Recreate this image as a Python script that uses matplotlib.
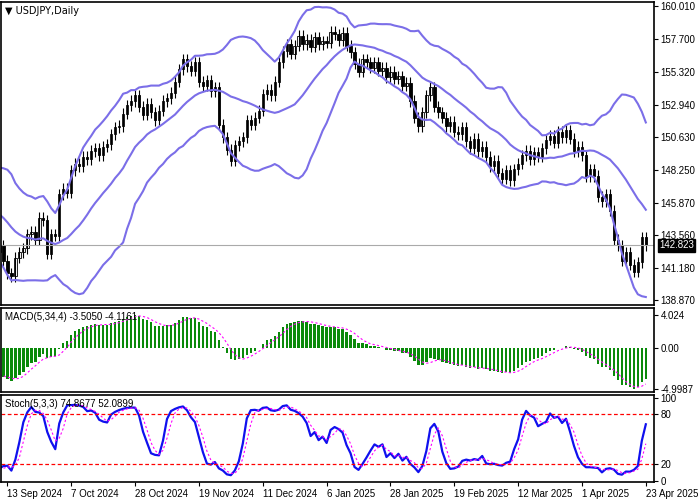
import numpy as np
import pandas as pd
import matplotlib
matplotlib.use("Agg")
import matplotlib.pyplot as plt

plt.rcParams["font.family"] = ["Liberation Sans", "DejaVu Sans"]

# closes before the visible window (warm-up for the indicators)
warmup_close = [154.0, 153.2, 152.5, 153.1, 151.6, 150.0, 149.4, 146.6, 146.5, 146.3,
                144.2, 146.2, 147.0, 146.7, 147.3, 146.8, 147.2, 147.8, 148.0, 146.5,
                145.8, 145.3, 144.6, 144.8, 143.6, 144.1, 145.9, 146.2, 145.4, 144.2,
                143.4, 143.7, 142.4, 142.3, 142.8, 141.7]

# visible daily closes, 13 Sep 2024 .. 23 Apr 2025
close = [140.8, 140.6, 141.9, 142.3, 142.6, 143.6, 143.8, 143.2, 144.8, 144.6,
         142.2, 143.6, 143.5, 146.5, 146.9, 146.6,
         148.2, 148.7, 148.5, 149.2, 149.0, 149.6, 149.8, 149.3, 149.9, 150.1,
         150.8, 151.3, 151.4, 152.3, 152.9, 153.2, 153.6, 152.8, 152.2, 153.0, 152.4,
         151.8, 152.5, 153.2, 153.4, 153.8, 154.6,
         155.5, 156.2, 155.7, 155.4, 156.0,
         154.6, 154.3, 154.7, 153.9, 154.2,
         151.5, 150.6, 149.7, 148.9, 150.0,
         150.3, 150.6, 151.8, 151.5, 152.0,
         152.5, 153.7, 154.0, 153.6, 154.6,
         156.0, 156.8, 157.3, 156.6, 157.2,
         157.9, 157.3, 157.6, 157.1, 157.8, 157.3, 157.5,
         157.4, 158.2, 158.0, 157.6, 158.1, 157.2, 156.7,
         155.9, 155.3, 156.2, 156.0, 155.6,
         156.0, 155.4, 155.6, 154.9, 155.3, 154.8,
         155.0, 154.3, 154.5,
         153.2, 152.0, 151.4, 152.4, 153.6,
         154.2, 152.8, 152.4,
         152.0, 151.4, 151.7, 151.0, 150.8, 151.3,
         150.3, 149.8, 150.5, 149.6, 149.9, 149.2,
         148.5, 148.9, 148.0, 147.6, 148.2, 147.5, 148.3, 148.7,
         149.3, 149.6, 149.0, 149.5, 149.2, 149.8,
         150.4, 150.7, 150.2, 151.0, 150.6, 151.1, 150.5,
         149.6, 149.9, 149.3, 147.8,
         148.3, 147.8, 146.3, 146.0,
         146.5, 145.3, 143.2,
         142.8, 141.7, 142.3, 141.4,
         140.9,
         141.6, 143.4, 142.823]

date_labels = ["13 Sep 2024", "7 Oct 2024", "28 Oct 2024", "19 Nov 2024", "11 Dec 2024",
               "6 Jan 2025", "28 Jan 2025", "19 Feb 2025", "12 Mar 2025", "1 Apr 2025", "23 Apr 2025"]
price_ticks = [160.010, 157.700, 155.320, 152.940, 150.630, 148.250, 145.870, 143.560, 141.180, 138.870]
wick = 0.4

allc = pd.Series(warmup_close + close)
opn = allc.shift(1).fillna(allc.iloc[0])
high = np.maximum(opn, allc) + wick
low = np.minimum(opn, allc) - wick
nw = len(warmup_close)

# indicators
mid = allc.rolling(20).mean()
sd = allc.rolling(20).std(ddof=0)
upper, lower = mid + 2 * sd, mid - 2 * sd
macd = allc.ewm(span=5, adjust=False).mean() - allc.ewm(span=34, adjust=False).mean()
signal = macd.rolling(4).mean()
hh = high.rolling(5).max()
ll = low.rolling(5).min()
k = (allc - ll).rolling(3).sum() / (hh - ll).rolling(3).sum() * 100
d = k.rolling(3).mean()

x = np.arange(len(allc)) - nw
vis = x >= -2
BB = "#7b6ee8"

fig = plt.figure(figsize=(7, 5), dpi=100)
ax = fig.add_axes([0.002, 0.39, 0.932, 0.607])
am = fig.add_axes([0.002, 0.216, 0.932, 0.168])
ast = fig.add_axes([0.002, 0.036, 0.932, 0.174])

for a in (ax, am, ast):
    a.set_xlim(-1.5, 162)
    a.tick_params(left=False, labelleft=False, right=True, labelright=True,
                  labelsize=7, length=3, pad=2, bottom=False, labelbottom=False)
    for s in a.spines.values():
        s.set_linewidth(1.2)

# candles
for i in np.where(vis)[0]:
    xi, o, c = x[i], opn[i], allc[i]
    ax.vlines(xi, low[i], high[i], color="black", lw=0.8)
    ax.bar(xi, max(abs(c - o), 0.05), bottom=min(o, c), width=0.6,
           color="white" if c >= o else "black", edgecolor="black", lw=0.6)
for band in (upper, mid, lower):
    ax.plot(x[vis], band[vis], color=BB, lw=1.5)
ax.axhline(close[-1], color="#aaaaaa", lw=0.8)
ax.set_ylim(138.51, 160.37)
ax.set_yticks(price_ticks)
ax.set_yticklabels([f"{t:.3f}" for t in price_ticks])
ax.text(1.008, close[-1], f"{close[-1]:.3f}", transform=ax.get_yaxis_transform(),
        fontsize=7, color="white", va="center", ha="left",
        bbox=dict(boxstyle="square,pad=0.15", fc="black", ec="black"))
ax.text(0.005, 0.985, "▼ USDJPY,Daily", transform=ax.transAxes, fontsize=7, va="top",
        family=["DejaVu Sans"])

# MACD
am.bar(x[vis], macd[vis], width=0.6, color="#0a8a0a")
am.plot(x[vis], signal[vis], color="magenta", lw=0.8, ls=(0, (2, 2)))
mx, mn = macd[vis].max(), macd[vis].min()
am.set_ylim(mn - 0.4, mx + 0.8)
am.set_yticks([mx, 0, mn])
am.set_yticklabels([f"{mx:.3f}", "0.00", f"{mn:.4f}"])
am.text(0.005, 0.95, "MACD(5,34,4) -3.5050 -4.1161", transform=am.transAxes, fontsize=7, va="top")

# Stochastic
ast.plot(x[vis], k[vis], color="#1010ee", lw=1.6)
ast.plot(x[vis], d[vis], color="magenta", lw=0.8, ls=(0, (2, 2)))
for lv in (20, 80):
    ast.axhline(lv, color="red", lw=0.9, ls=(0, (3, 2)))
ast.set_ylim(-1, 103)
ast.set_yticks([0, 20, 80, 100])
ast.text(0.005, 0.95, "Stoch(5,3,3) 74.8677 52.0899", transform=ast.transAxes, fontsize=7, va="top")
ast.set_xticks(np.arange(0, 161, 16))
ast.set_xticklabels(date_labels)
ast.tick_params(bottom=True, labelbottom=True, length=3, labelsize=7)
for lbl in ast.get_xticklabels():
    lbl.set_ha("left")

fig.savefig("out.png", dpi=100)
